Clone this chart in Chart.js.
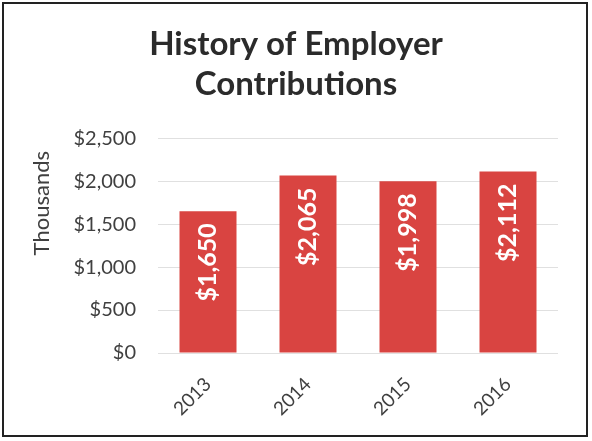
<!DOCTYPE html>
<html>
<head>
<meta charset="utf-8">
<script src="https://cdn.jsdelivr.net/npm/chart.js@4/dist/chart.umd.min.js"></script>
<style>
  html, body { margin: 0; padding: 0; background: #fff; }
  #wrap { width: 592px; height: 441px; position: relative; }
</style>
</head>
<body>
<div id="wrap"><canvas id="chart" width="592" height="441"></canvas></div>
<script>
const years = ['2013', '2014', '2015', '2016'];
const contributions = [1650, 2065, 1998, 2112];
const yTicks = [0, 500, 1000, 1500, 2000, 2500];

const barColor = '#d94441';
const textColor = '#404040';

function money(v) {
    return '$' + v.toLocaleString('en-US');
}

// outer frame + rotated axis caption
const framePlugin = {
    id: 'frame',
    afterDraw(chart) {
        const ctx = chart.ctx;
        ctx.save();
        ctx.strokeStyle = '#222';
        ctx.lineWidth = 2;
        ctx.strokeRect(3, 3, 584, 433);

        ctx.translate(42, chart.chartArea.top + 65);
        ctx.rotate(-Math.PI / 2);
        ctx.fillStyle = textColor;
        ctx.font = '22px Lato';
        ctx.textAlign = 'center';
        ctx.textBaseline = 'middle';
        ctx.fillText('Thousands', 0, 0);
        ctx.restore();
    }
};

// vertical value labels just inside the top of each bar
const barLabels = {
    id: 'barLabels',
    afterDatasetsDraw(chart) {
        const ctx = chart.ctx;
        const meta = chart.getDatasetMeta(0);
        ctx.save();
        ctx.fillStyle = '#fff';
        ctx.font = 'bold 25px Lato';
        ctx.textAlign = 'right';
        ctx.textBaseline = 'middle';
        meta.data.forEach((bar, i) => {
            ctx.save();
            ctx.translate(bar.x, bar.y + 12);
            ctx.rotate(-Math.PI / 2);
            ctx.fillText(money(contributions[i]), 0, 0);
            ctx.restore();
        });
        ctx.restore();
    }
};

new Chart(document.getElementById('chart'), {
    type: 'bar',
    data: {
        labels: years,
        datasets: [{
            data: contributions,
            backgroundColor: barColor,
            borderWidth: 0,
            categoryPercentage: 1,
            barPercentage: 0.57
        }]
    },
    options: {
        responsive: false,
        animation: false,
        events: [],
        layout: { padding: { left: 34, right: 34, top: 0, bottom: 0 } },
        plugins: {
            legend: { display: false },
            tooltip: { enabled: false },
            title: {
                display: true,
                text: ['History of Employer', 'Contributions'],
                color: '#2b2b2b',
                font: { family: 'Lato', size: 33, weight: 'bold', lineHeight: 1.2 },
                padding: { top: 25, bottom: 34 }
            }
        },
        scales: {
            x: {
                grid: { display: false },
                border: { display: false },
                ticks: {
                    color: textColor,
                    font: { family: 'Lato', size: 19 },
                    minRotation: 45,
                    maxRotation: 45,
                    padding: 12
                },
                afterFit(scale) { scale.height = 88; }
            },
            y: {
                min: 0,
                max: 2500,
                afterBuildTicks(scale) {
                    scale.ticks = yTicks.map(v => ({ value: v }));
                },
                grid: { color: '#e0e0e0', lineWidth: 1, drawTicks: false },
                border: { display: false },
                ticks: {
                    color: textColor,
                    font: { family: 'Lato', size: 20 },
                    padding: 22,
                    callback: v => money(v)
                },
                afterFit(scale) { scale.width = 124; }
            }
        }
    },
    plugins: [framePlugin, barLabels]
});
</script>
</body>
</html>
